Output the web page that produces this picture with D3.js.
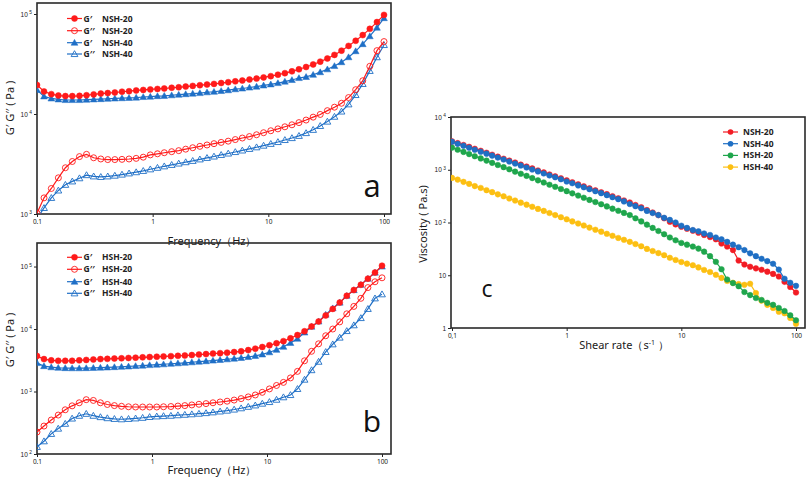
<!DOCTYPE html>
<html><head><meta charset="utf-8">
<script src="https://cdn.jsdelivr.net/npm/d3@7"></script>
<style>
body{margin:0;background:#fff;}
svg{display:block;font-family:"Noto Sans","Open Sans",sans-serif;}
</style>
</head><body>
<svg id="chart" width="808" height="480"></svg>
<script>
// ---------------- DATA ----------------
const freq = [0.1,0.115,0.133,0.153,0.176,0.202,0.233,0.268,0.309,0.356,0.409,0.471,0.543,0.625,0.72,0.829,0.954,1.1,1.26,1.46,1.68,1.93,2.22,2.56,2.95,3.39,3.91,4.5,5.18,5.96,6.87,7.91,9.1,10.5,12.1,13.9,16,18.4,21.2,24.4,28.1,32.4,37.3,42.9,49.4,56.9,65.5,75.4,86.9,100];

// panel a
const aGp_NSH20  = [19500,16800,15800,15300,15100,15100,15200,15400,15700,16000,16200,16400,16700,16900,17200,17400,17600,17800,18000,18300,18500,18800,19100,19400,19700,20000,20400,20800,21200,21600,22100,22600,23200,23900,24700,25600,26700,28000,29500,31300,33400,35900,39000,43000,48000,54000,61500,71000,83000,98000];
const aGpp_NSH20 = [1020,1450,1800,2300,2900,3350,3750,3950,3650,3550,3500,3500,3520,3550,3600,3700,3900,4000,4100,4200,4300,4450,4600,4750,4900,5050,5200,5350,5550,5750,5950,6200,6500,6800,7100,7450,7800,8200,8700,9300,9900,10800,11700,12800,14600,17500,21500,30000,43000,53000];
const aGp_NSH40  = [17400,15000,14300,14000,13800,13800,13800,13900,14000,14100,14200,14300,14400,14500,14600,14800,14900,15100,15200,15400,15600,15800,16000,16200,16500,16700,17000,17300,17700,18000,18400,18800,19300,19800,20400,21100,21900,22900,23500,24700,26200,28000,30200,33000,37000,42500,50000,60000,73000,91000];
const aGpp_NSH40 = [900,1150,1450,1720,1960,2120,2280,2450,2380,2350,2380,2420,2480,2550,2620,2700,2800,2900,3000,3100,3200,3300,3400,3520,3640,3760,3900,4030,4170,4320,4480,4650,4830,5030,5250,5500,5750,6050,6450,6950,7600,8400,9400,10600,12500,15500,20000,27000,37000,49000];

// panel b
const bGp_HSH20  = [3700,3300,3150,3100,3100,3100,3150,3200,3250,3300,3330,3370,3400,3440,3480,3520,3560,3600,3640,3680,3720,3770,3830,3900,3970,4040,4110,4190,4280,4400,4600,4850,5150,5500,5900,6400,7100,8000,9200,11000,13200,16500,21000,26500,34000,42000,51000,64000,80000,103000];
const bGpp_HSH20 = [225,280,350,420,510,590,660,740,720,660,620,595,580,570,565,565,565,565,570,575,585,595,610,625,640,660,680,700,730,770,820,880,970,1100,1250,1400,1650,2100,3100,4400,5800,7800,10000,13000,17500,23000,31000,46000,57000,66000];
const bGp_HSH40  = [2860,2550,2450,2400,2370,2360,2360,2370,2390,2410,2430,2460,2490,2520,2560,2600,2650,2690,2730,2780,2830,2880,2940,3000,3060,3130,3200,3280,3360,3450,3570,3720,3920,4250,4650,5200,6000,7000,8800,10900,13200,17000,21500,26500,34000,42000,51000,64000,80000,100000];
const bGpp_HSH40 = [130,160,210,255,305,370,410,440,410,390,375,365,360,365,372,380,392,400,405,410,418,425,433,442,452,465,480,495,515,540,570,600,640,680,740,810,880,1100,1550,2200,3000,4300,5700,7300,9300,11500,15000,21000,31000,36000];

// panel c
const shearRate = [0.1,0.112,0.126,0.141,0.158,0.178,0.2,0.224,0.251,0.282,0.316,0.355,0.398,0.447,0.501,0.562,0.631,0.708,0.794,0.891,1,1.12,1.26,1.41,1.58,1.78,2,2.24,2.51,2.82,3.16,3.55,3.98,4.47,5.01,5.62,6.31,7.08,7.94,8.91,10,11.2,12.6,14.1,15.8,17.8,20,22.4,25.1,28.2,31.6,35.5,39.8,44.7,50.1,56.2,63.1,70.8,79.4,89.1,100];
const visc_NSH20 = [3450,3200,2950,2720,2500,2290,2100,1930,1770,1620,1490,1370,1250,1150,1060,970,890,815,750,690,630,580,530,485,445,408,375,345,315,288,262,240,215,195,172,155,138,120,103,92,83,76,70,64,58,53,48,40,35,30,19,16,14.5,13.5,12.7,11.7,10.6,9.5,7.5,6,4.7];
const visc_NSH40 = [3400,3100,2850,2620,2400,2200,2020,1850,1700,1560,1430,1310,1200,1100,1010,930,850,780,720,660,600,555,505,465,428,392,360,330,302,277,251,224,204,186,166,151,138,123,112,100,87,79,72,68,62,58,52,48,43,38,34,30,26,23,20.5,18.5,16.5,12.8,8.6,7.2,6.3];
const visc_HSH20 = [2630,2390,2180,1980,1800,1640,1490,1350,1230,1120,1020,920,840,765,695,630,575,520,475,432,393,357,324,295,268,244,222,202,183,167,152,138,120,105,91,79,69,60,52,46,41,38,35,32,28,23,18,13,8.3,7.1,6.2,4.8,4.2,3.7,3.4,3.0,2.75,2.4,2.1,1.74,1.4];
const visc_HSH40 = [700,650,590,540,490,452,410,376,342,314,286,261,238,218,199,181,166,151,138,126,115,105,96,88,80,73,67,61,56,51,47,43,39,35.5,31.6,28.8,26.3,24,21.4,19.5,17.8,16.6,15.5,14.1,12.6,11.5,10.2,8.9,7.8,7.2,6.8,6.6,6.9,4.6,3.3,2.75,2.4,2.04,1.9,1.55,1.2];

// ticks & labels
const freqTicks = [0.1,1,10,100];
const freqTickLabels = ["0.1","1","10","100"];
const shearTickLabels = ["0,1","1","10","100"];
const aYTicks = [1e3,1e4,1e5];   const aYBase = ["10","10","10"]; const aYExp = ["3","4","5"];
const bYTicks = [1e2,1e3,1e4,1e5]; const bYBase = ["10","10","10","10"]; const bYExp = ["2","3","4","5"];
const cYTicks = [1,10,100,1000,10000]; const cYBase = ["1","10","10","10","10"]; const cYExp = ["","","2","3","4"];

const legendAMod = ["G′","G′′","G′","G′′"];
const legendASample = ["NSH-20","NSH-20","NSH-40","NSH-40"];
const legendBSample = ["HSH-20","HSH-20","HSH-40","HSH-40"];
const legendC = ["NSH-20","NSH-40","HSH-20","HSH-40"];

// ---------------- DRAW ----------------
const RED = "#ff1a1a", BLUE = "#1f6fc6";
const cColors = ["#f21c24","#1f6fc4","#1fa64c","#fcbf12"];
const svg = d3.select("#chart");

let clipId = 0;
function panel(o){
  const g = svg.append("g");
  const x = d3.scaleLog().domain([0.1,100]).range(o.xr);
  const y = d3.scaleLog().domain(o.yd).range(o.yr);
  const id = "clip" + (clipId++);
  g.append("clipPath").attr("id", id).append("rect")
    .attr("x", o.f.l).attr("y", o.f.t).attr("width", o.f.r - o.f.l).attr("height", o.f.b - o.f.t);
  // x axis
  const xa = g.append("g").attr("transform", `translate(0,${o.f.b})`)
    .call(d3.axisBottom(x).tickValues(freqTicks).tickFormat((d,i)=>o.xLabels[i]).tickSize(3).tickSizeOuter(0).tickPadding(2));
  xa.select(".domain").remove();
  xa.selectAll(".tick line").attr("stroke","#222").attr("stroke-width",1);
  xa.selectAll(".tick text").attr("font-size",6.5).attr("fill","#222").attr("font-family","Noto Sans, sans-serif");
  // y axis
  const ya = g.append("g").attr("transform", `translate(${o.f.l},0)`)
    .call(d3.axisLeft(y).tickValues(o.yt).tickFormat(()=>"").tickSize(3).tickSizeOuter(0));
  ya.select(".domain").remove();
  ya.selectAll(".tick line").attr("stroke","#222");
  ya.selectAll(".tick text").each(function(d,i){
    const t = d3.select(this).attr("font-size",6.5).attr("fill","#222").attr("x",-5).attr("dy","0.32em");
    t.append("tspan").text(o.yBase[i]);
    if (o.yExp[i]) t.append("tspan").attr("dx",1.5).attr("dy",-2.5).attr("font-size",4.8).text(o.yExp[i]);
  });
  // frame
  g.append("rect").attr("x",o.f.l).attr("y",o.f.t).attr("width",o.f.r-o.f.l).attr("height",o.f.b-o.f.t)
    .attr("fill","none").attr("stroke","#2a2a2a").attr("stroke-width",1.6);
  const plot = g.append("g").attr("clip-path",`url(#${id})`);
  return {g, x, y, plot};
}

function drawSeries(p, xs, ys, color, kind, r){
  const pts = xs.map((v,i)=>[v, ys[i]]);
  p.plot.append("path").datum(pts)
    .attr("d", d3.line().x(d=>p.x(d[0])).y(d=>p.y(d[1])))
    .attr("fill","none").attr("stroke",color).attr("stroke-width",1.2);
  drawMarkers(p.plot, pts.map(d=>[p.x(d[0]), p.y(d[1])]), color, kind, r);
}
function drawMarkers(sel, pxy, color, kind, r){
  if (kind === "fc" || kind === "oc") {
    sel.selectAll(null).data(pxy).enter().append("circle")
      .attr("cx",d=>d[0]).attr("cy",d=>d[1]).attr("r", r)
      .attr("fill", kind==="fc" ? color : "none").attr("stroke", color).attr("stroke-width", kind==="fc"?0.5:0.9);
  } else {
    const sym = d3.symbol().type(d3.symbolTriangle).size(r);
    sel.selectAll(null).data(pxy).enter().append("path")
      .attr("transform", d=>`translate(${d[0]},${d[1]+0.6})`).attr("d", sym)
      .attr("fill", kind==="ft" ? color : "none").attr("stroke", color).attr("stroke-width", kind==="ft"?0.5:0.9);
  }
}

function axisTitles(p, xTitle, xc, xb, yTitle, yx, yc){
  const xt = svg.append("text").attr("x",xc).attr("y",xb).attr("text-anchor","middle")
    .attr("font-size",11).attr("fill","#1a1a1a");
  xTitle(xt);
  svg.append("text").attr("transform",`translate(${yx},${yc}) rotate(-90)`).attr("text-anchor","middle")
    .attr("font-size",11).attr("fill","#1a1a1a").text(yTitle);
}

function legendAB(x0, ys, mods, samples){
  const kinds = [["fc",RED],["oc",RED],["ft",BLUE],["ot",BLUE]];
  ys.forEach((yy,i)=>{
    const [k,c] = kinds[i];
    svg.append("line").attr("x1",x0).attr("x2",x0+15).attr("y1",yy).attr("y2",yy).attr("stroke",c).attr("stroke-width",1.2);
    drawMarkers(svg, [[x0+7.5, yy]], c, k, k[1]==="c" ? 3 : 20);
    svg.append("text").attr("x",x0+16.5).attr("y",yy+3).attr("font-size",8.5).attr("font-weight","bold").attr("fill","#222").text(mods[i]);
    svg.append("text").attr("x",x0+35).attr("y",yy+3).attr("font-size",8.5).attr("font-weight","bold").attr("fill","#222").text(samples[i]);
  });
}

// ---- Panel a ----
const pa = panel({f:{l:37,r:391,t:3,b:214}, xr:[37,384], yd:[1e3,1e5], yr:[214,14],
  yt:aYTicks, yBase:aYBase, yExp:aYExp, xLabels:freqTickLabels});
drawSeries(pa, freq, aGpp_NSH40, BLUE, "ot", 20);
drawSeries(pa, freq, aGpp_NSH20, RED, "oc", 3);
drawSeries(pa, freq, aGp_NSH40, BLUE, "ft", 20);
drawSeries(pa, freq, aGp_NSH20, RED, "fc", 3);
axisTitles(pa, t=>t.text("Frequency（Hz）"), 212, 245, "G′  G′′ ( Pa )", 14, 108);
legendAB(67, [18.5,30.7,42.7,54], legendAMod, legendASample);
svg.append("text").attr("x",372).attr("y",197).attr("text-anchor","middle").attr("font-size",31).attr("font-family","Open Sans, sans-serif").attr("fill","#111").text("a");

// ---- Panel b ----
const pb = panel({f:{l:37,r:391,t:243,b:454}, xr:[37,382], yd:[1e2,2.38e5], yr:[454,243],
  yt:bYTicks, yBase:bYBase, yExp:bYExp, xLabels:freqTickLabels});
drawSeries(pb, freq, bGpp_HSH40, BLUE, "ot", 20);
drawSeries(pb, freq, bGpp_HSH20, RED, "oc", 3);
drawSeries(pb, freq, bGp_HSH40, BLUE, "ft", 20);
drawSeries(pb, freq, bGp_HSH20, RED, "fc", 3);
axisTitles(pb, t=>t.text("Frequency（Hz）"), 212, 474, "G′  G′′ ( Pa )", 14, 340);
legendAB(67, [257.3,269.3,281.7,293.3], legendAMod, legendBSample);
svg.append("text").attr("x",372).attr("y",432).attr("text-anchor","middle").attr("font-size",30).attr("font-family","Open Sans, sans-serif").attr("fill","#111").text("b");

// ---- Panel c ----
const pc = panel({f:{l:451,r:805,t:117,b:328}, xr:[452,796], yd:[1,1e4], yr:[328,117],
  yt:cYTicks, yBase:cYBase, yExp:cYExp, xLabels:shearTickLabels});
[visc_HSH40, visc_HSH20, visc_NSH20, visc_NSH40].forEach((s,k)=>{
  const ci = [3,2,0,1][k];
  drawSeries(pc, shearRate, s, cColors[ci], "fc", 2.8);
});
axisTitles(pc, t=>{
  t.append("tspan").text("Shear rate（s");
  t.append("tspan").attr("dy",-4).attr("font-size",7).text("-1");
  t.append("tspan").attr("dy",4).text(" ）");
}, 624, 349, "Viscosity ( Pa.s)", 427, 224);
legendC.forEach((name,i)=>{
  const yy = 132 + i*11.7;
  svg.append("line").attr("x1",723).attr("x2",738).attr("y1",yy).attr("y2",yy).attr("stroke",cColors[i]).attr("stroke-width",1.2);
  svg.append("circle").attr("cx",730.5).attr("cy",yy).attr("r",2.8).attr("fill",cColors[i]);
  svg.append("text").attr("x",743).attr("y",yy+3).attr("font-size",8.5).attr("font-weight","bold").attr("fill","#222").text(name);
});
svg.append("text").attr("x",487).attr("y",297).attr("text-anchor","middle").attr("font-size",23).attr("font-family","Open Sans, sans-serif").attr("fill","#111").text("c");
</script>
</body></html>
